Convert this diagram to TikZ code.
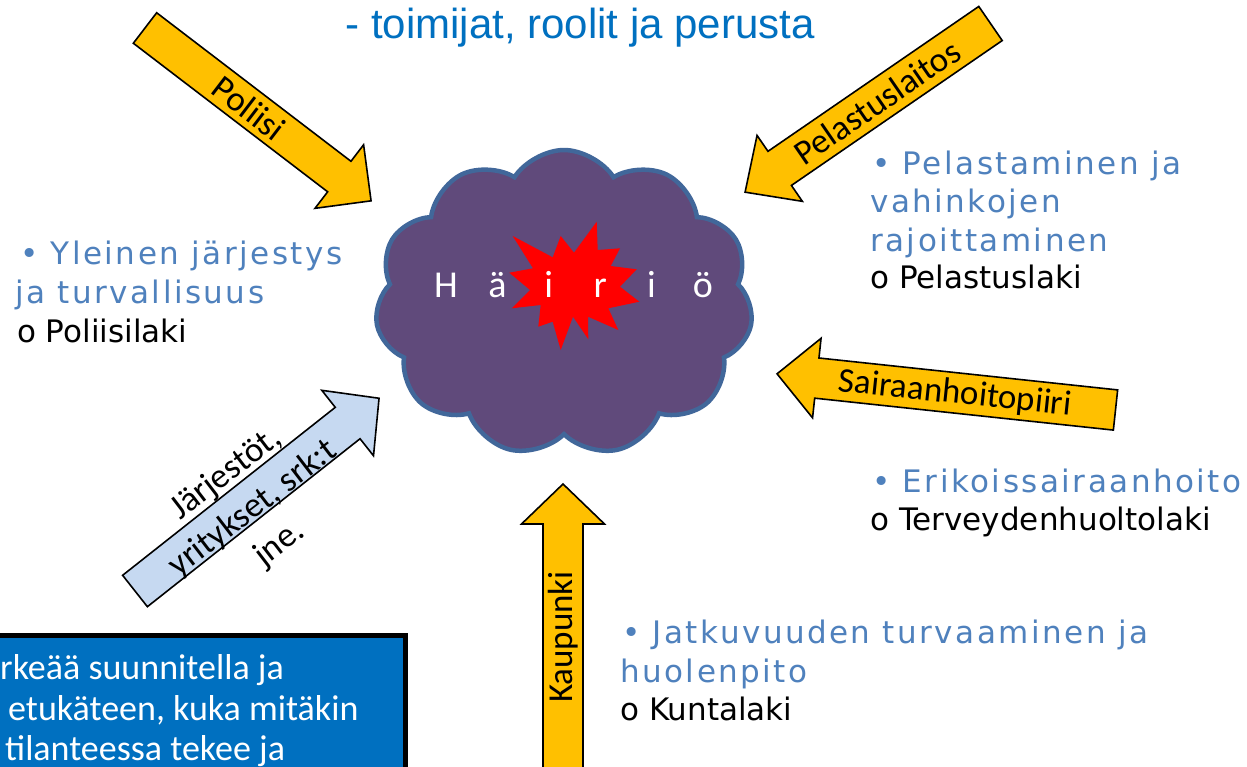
\documentclass[tikz,border=0pt]{standalone}
\usepackage{fontspec}
\setmainfont{Carlito}
\newfontfamily\titlefont{Liberation Sans}
\newfontfamily\bodyfont{DejaVu Sans}
\newfontfamily\bluefont[LetterSpace=8]{DejaVu Sans}
\usetikzlibrary{shapes.symbols}
\definecolor{arrowyellow}{HTML}{FFC000}
\definecolor{arrowblue}{HTML}{C6D9F1}
\definecolor{titleblue}{HTML}{0070C0}
\definecolor{bulletblue}{HTML}{4F81BD}
\definecolor{cloudfill}{HTML}{604A7B}
\definecolor{cloudline}{HTML}{41679A}
\definecolor{boxblue}{HTML}{0070C0}
\definecolor{starred}{HTML}{FF0000}

\tikzset{
  arrowline/.style={draw=black, line width=1.6pt, line join=miter},
  arrowlabel/.style={font=\fontsize{35}{40}\selectfont, text=black, inner sep=0pt, align=center},
  blueline/.style={font=\bluefont\fontsize{31}{34}\selectfont, text=bulletblue, anchor=base west, inner sep=0pt},
  blackline/.style={font=\bodyfont\fontsize{31}{34}\selectfont, text=black, anchor=base west, inner sep=0pt},
  boxtext/.style={font=\fontsize{36}{40}\selectfont, text=white, anchor=base west, inner sep=0pt},
}

% name, fill, tail x, tail y, angle, length, half shaft, half head, head length
\newcommand{\blockarrow}[9]{%
  \begin{scope}[shift={(#3,#4)}, rotate=#5]
    \draw[arrowline, fill=#2] (0,-#7) -- ({#6-#9},-#7) -- ({#6-#9},-#8) -- (#6,0)
      -- ({#6-#9},#8) -- ({#6-#9},#7) -- (0,#7) -- cycle;
    \coordinate (#1-tip) at (#6,0);
  \end{scope}}

\begin{document}
\begin{tikzpicture}[x=1pt, y=-1pt]
\useasboundingbox (0,0) rectangle (1247,767);
\fill[white] (0,0) rectangle (1247,767);
\clip (0,0) rectangle (1247,767);

% title
\node[font=\titlefont\fontsize{42}{48}\selectfont, text=titleblue, anchor=base, inner sep=0pt] (title) at (580,39) {- toimijat, roolit ja perusta};

% cloud
\node[cloud, cloud puffs=11, cloud puff arc=115, aspect=1.25, draw=cloudline, line width=4.5pt,
      fill=cloudfill, minimum width=378pt, minimum height=306pt, inner sep=0pt] (cloud) at (564,303) {};

% star
\fill[starred] (512.7,236) -- (552.7,257.3) -- (560.7,236) -- (574,252.7) -- (596.7,221.7)
  -- (597.7,250) -- (620,248.3) -- (610.7,266) -- (636.7,269.3) -- (620,286.7)
  -- (639.3,301.7) -- (608.3,308.3) -- (618.3,330) -- (588,316.7) -- (588.3,339.3)
  -- (573,316.7) -- (560.7,350) -- (552.7,321.7) -- (538.3,326.7) -- (540.7,305)
  -- (511.7,308.3) -- (530,290) -- (509.3,272.7) -- (533,268.3) -- cycle;
\coordinate (star) at (575,287);

% Häiriö
\node[font=\fontsize{38}{44}\selectfont, text=white, anchor=base, inner sep=0pt] (hairio) at (574.5,298)
  {\makebox[51.4pt]{H}\makebox[51.4pt]{ä}\makebox[51.4pt]{i}\makebox[51.4pt]{r}\makebox[51.4pt]{i}\makebox[51.4pt]{ö}};

% arrows
\blockarrow{poliisi}{arrowyellow}{145}{28}{-37.4}{284.6}{19.2}{40}{40}
\node[arrowlabel, rotate=-37.4] (poliisilabel) at (249,108) {Poliisi};

\blockarrow{pelastus}{arrowyellow}{990.5}{23.5}{214.5}{297.8}{20.7}{40}{42}
\node[arrowlabel, rotate=34.5] (pelastuslabel) at (877,102) {Pelastuslaitos};

\blockarrow{sairaala}{arrowyellow}{1115.5}{410}{173.9}{340.4}{20.2}{40}{40}
\node[arrowlabel, rotate=-6] (sairaalalabel) at (955,394) {Sairaanhoitopiiri};

\blockarrow{kaupunki}{arrowyellow}{563}{800}{90}{316}{20}{41.5}{40}
\node[arrowlabel, rotate=90] (kaupunkilabel) at (563,637) {Kaupunki};

\blockarrow{jarjestot}{arrowblue}{135}{591}{38.3}{311}{20}{41.7}{40}
\node[arrowlabel, font=\fontsize{35}{44}\selectfont, rotate=37.5] (jarjestotlabel) at (253,509) {Järjestöt,\\yritykset, srk:t\\jne.};

% left text
\node[blueline] (l1) at (20,265) {• Yleinen järjestys};
\node[blueline] (l2) at (15,303) {ja turvallisuus};
\node[blackline] (l3) at (17,342) {o Poliisilaki};

% right top text
\node[blueline] (r1) at (872,175) {• Pelastaminen ja};
\node[blueline] (r2) at (870,213) {vahinkojen};
\node[blueline] (r3) at (870,252) {rajoittaminen};
\node[blackline] (r4) at (870,288) {o Pelastuslaki};

% right middle text
\node[blueline] (m1) at (872,492) {• Erikoissairaanhoito};
\node[blackline] (m2) at (870,530) {o Terveydenhuoltolaki};

% bottom text
\node[blueline] (b1) at (622,643) {• Jatkuvuuden turvaaminen ja};
\node[blueline] (b2) at (620,682) {huolenpito};
\node[blackline] (b3) at (620,720) {o Kuntalaki};

% blue box
\draw[line width=5pt, fill=boxblue] (-20,635.5) rectangle (405.5,800);
\node[boxtext] (box1) at (0,679) {rkeää suunnitella ja};
\node[boxtext] (box2) at (8,720) {etukäteen, kuka mitäkin};
\node[boxtext] (box3) at (5,760) {tilanteessa tekee ja};
\end{tikzpicture}
\end{document}
